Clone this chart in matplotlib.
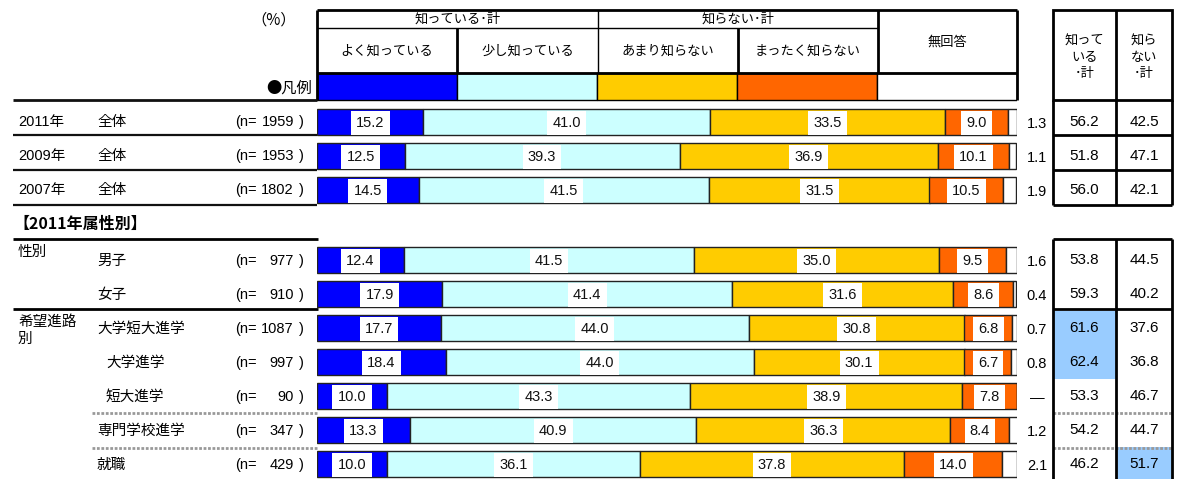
import matplotlib.pyplot as plt
from matplotlib.patches import Rectangle

plt.rcParams['font.family'] = ['Liberation Sans', 'Noto Sans CJK JP']

##### data #####
groups = ['2011年', '2009年', '2007年', '性別', '', '希望進路\n別', '', '', '', '']
labels = ['全体', '全体', '全体', '男子', '女子', '大学短大進学', '大学進学', '短大進学', '専門学校進学', '就職']
indent = [0, 0, 0, 0, 0, 0, 1, 1, 0, 0]
n_values = [1959, 1953, 1802, 977, 910, 1087, 997, 90, 347, 429]

know_well = [15.2, 12.5, 14.5, 12.4, 17.9, 17.7, 18.4, 10.0, 13.3, 10.0]
know_little = [41.0, 39.3, 41.5, 41.5, 41.4, 44.0, 44.0, 43.3, 40.9, 36.1]
not_much = [33.5, 36.9, 31.5, 35.0, 31.6, 30.8, 30.1, 38.9, 36.3, 37.8]
not_at_all = [9.0, 10.1, 10.5, 9.5, 8.6, 6.8, 6.7, 7.8, 8.4, 14.0]
no_answer = [1.3, 1.1, 1.9, 1.6, 0.4, 0.7, 0.8, None, 1.2, 2.1]

know_total = [56.2, 51.8, 56.0, 53.8, 59.3, 61.6, 62.4, 53.3, 54.2, 46.2]
dont_total = [42.5, 47.1, 42.1, 44.5, 40.2, 37.6, 36.8, 46.7, 44.7, 51.7]
hl_know = [False, False, False, False, False, True, True, False, False, False]
hl_dont = [False, False, False, False, False, False, False, False, False, True]

cat_names = ['よく知っている', '少し知っている', 'あまり知らない', 'まったく知らない', '無回答']
cat_colors = ['#0000FF', '#CCFFFF', '#FFCC00', '#FF6600', '#FFFFFF']

##### layout (pixels) #####
W, H = 1178, 479
row_y = [122, 156, 190, 260, 294, 328, 362, 396, 430, 464]
bar_h = 26
x0, x1 = 317, 1017
col_edges = [317, 457, 598, 738, 878, 1017]
tx0, tmid, tx1 = 1053, 1116, 1172

fig = plt.figure(figsize=(W / 100, H / 100), dpi=100)

# bars: x in percent
bx = fig.add_axes([x0 / W, 0, (x1 - x0) / W, 1])
bx.set_xlim(0, 100)
bx.set_ylim(H, 0)
bx.set_axis_off()
bx.set_zorder(1)

# overlay for text and table rules, in pixels
ax = fig.add_axes([0, 0, 1, 1])
ax.set_xlim(0, W)
ax.set_ylim(H, 0)
ax.set_axis_off()
ax.set_zorder(2)
ax.patch.set_alpha(0)

series = [know_well, know_little, not_much, not_at_all,
          [v if v is not None else 0 for v in no_answer]]

left = [0.0] * len(row_y)
for k, vals in enumerate(series):
    bx.barh(row_y, vals, left=left, height=bar_h, color=cat_colors[k],
            edgecolor='#222222', linewidth=1.0)
    if k < 4:
        for y, l, v in zip(row_y, left, vals):
            bx.text(l + v / 2, y + 1, f'{v:.1f}', ha='center', va='center',
                    fontsize=10.5, color='#111111', zorder=5,
                    bbox=dict(boxstyle='square,pad=0.36', fc='white', ec='none'))
    left = [l + v for l, v in zip(left, vals)]

# legend strip under the header (equal-width cells)
leg_left = 0
for c in cat_colors:
    bx.barh(86.5, 20, left=leg_left, height=27, color=c, edgecolor='black', linewidth=1.0)
    leg_left += 20

##### header #####
lw_thick = 2.0
lw_thin = 1.0
fs_jp = 9.5

def hline(y, xa, xb, lw=lw_thick, **kw):
    ax.plot([xa, xb], [y, y], color=kw.pop('color', 'black'), lw=lw,
            solid_capstyle='butt', **kw)

def vline(x, ya, yb, lw=lw_thick, **kw):
    ax.plot([x, x], [ya, yb], color=kw.pop('color', 'black'), lw=lw,
            solid_capstyle='butt', **kw)

hline(10, 317, 1017)
hline(28, 317, 878, lw=lw_thin)
hline(73, 317, 1017)
vline(317, 10, 100)
vline(1017, 10, 100)
vline(598, 10, 73, lw=lw_thin)
vline(457, 28, 73)
vline(738, 28, 73)
vline(878, 10, 73)

ax.text((317 + 598) / 2, 19, '知っている･計', ha='center', va='center', fontsize=fs_jp)
ax.text((598 + 878) / 2, 19, '知らない･計', ha='center', va='center', fontsize=fs_jp)
for i, name in enumerate(cat_names[:4]):
    ax.text((col_edges[i] + col_edges[i + 1]) / 2, 51, name,
            ha='center', va='center', fontsize=fs_jp)
ax.text((878 + 1017) / 2, 42, cat_names[4], ha='center', va='center', fontsize=fs_jp)

ax.text(274, 20, '（%）', ha='center', va='center', fontsize=11,
        family='Noto Sans CJK JP')
ax.text(312, 88, '●凡例', ha='right', va='center', fontsize=11,
        family='Noto Sans CJK JP')

# summary table header
ax.add_patch(Rectangle((tx0, 10), tx1 - tx0, 90, fill=False, lw=lw_thick, ec='black'))
vline(tmid, 10, 205)
ax.text((tx0 + tmid) / 2, 58, '知って\nいる\n･計', ha='center', va='center',
        fontsize=fs_jp, linespacing=1.45)
ax.text((tmid + tx1) / 2, 58, '知ら\nない\n･計', ha='center', va='center',
        fontsize=fs_jp, linespacing=1.45)

##### row separators #####
for y in [100, 135, 170, 205]:
    hline(y, 13, 317, lw=2.0 if y == 100 else 1.6, color='#111111')
for y in [135, 170, 205]:
    hline(y, tx0, tx1)
vline(tx0, 100, 205)
vline(tx1, 100, 205)

ax.text(13, 224, '【2011年属性別】', ha='left', va='center', fontsize=11.5,
        fontweight='bold', family='Noto Sans CJK JP')

hline(239, 13, 318)
hline(309, 13, 318)
for y in [413, 448]:
    hline(y, 92, 318, lw=2.0, color='#999999', linestyle=(0, (1, 0.6)))

# lower summary table
for i in range(3, len(row_y)):
    top = row_y[i] - 17
    if hl_know[i]:
        ax.add_patch(Rectangle((tx0, top), tmid - tx0, 34, color='#99CCFF', lw=0))
    if hl_dont[i]:
        ax.add_patch(Rectangle((tmid, top), tx1 - tmid, 34, color='#99CCFF', lw=0))
hline(239, tx0, tx1)
hline(309, tx0, tx1)
for y in [413, 448]:
    hline(y, tx0, tx1, lw=2.0, color='#999999', linestyle=(0, (1, 0.6)))
vline(tx0, 239, H)
vline(tmid, 239, H)
vline(tx1, 239, H)

##### row texts #####
fs_row = 10.5
for i, y in enumerate(row_y):
    if groups[i]:
        if i < 3:
            ax.text(18, y, groups[i], ha='left', va='center', fontsize=fs_row)
        else:
            n_lines = groups[i].count('\n') + 1
            ax.text(18, y - 8 + 10.5 * (n_lines - 1), groups[i], ha='left',
                    va='center', fontsize=fs_row, linespacing=1.3)
    ty = y + (1 if i >= 3 else 0)
    ax.text(97 + 9 * indent[i], ty, labels[i], ha='left', va='center', fontsize=fs_row)
    ax.text(235, ty, '(n=', ha='left', va='center', fontsize=10.5)
    ax.text(294, ty, f'{n_values[i]}', ha='right', va='center', fontsize=10.5)
    ax.text(299, ty, ')', ha='left', va='center', fontsize=10.5)

    na = no_answer[i]
    ax.text(1037, y + 2, '—' if na is None else f'{na:.1f}',
            ha='center', va='center', fontsize=10.5)
    ax.text((tx0 + tmid) / 2, y, f'{know_total[i]:.1f}', ha='center', va='center',
            fontsize=11)
    ax.text((tmid + tx1) / 2, y, f'{dont_total[i]:.1f}', ha='center', va='center',
            fontsize=11)

fig.savefig('out.png', dpi=100)
